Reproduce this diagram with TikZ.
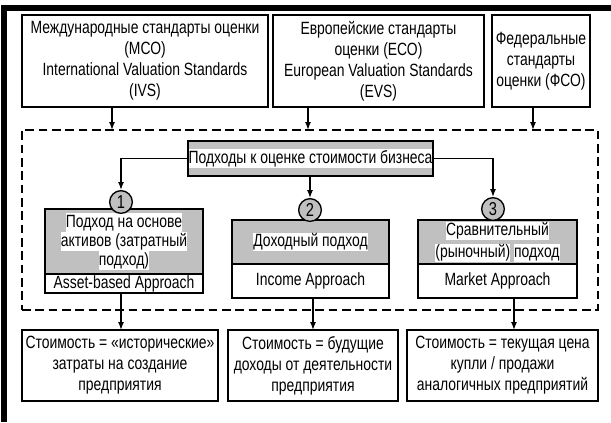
\documentclass[tikz,border=0pt]{standalone}
\usepackage{fontspec}
\setmainfont[FakeStretch=0.785]{Liberation Sans}
\usetikzlibrary{arrows.meta,calc}
\definecolor{boxgray}{RGB}{192,192,192}
\newcommand{\hlw}[1]{{\setlength{\fboxsep}{0pt}\colorbox{white}{\rule[-3.3pt]{0pt}{13.8pt}#1}}}
\begin{document}
\begin{tikzpicture}[x=0.75pt,y=-0.75pt,
  box/.style={draw,line width=1pt,inner sep=0pt,outer sep=0pt,align=center,anchor=north west,
    font=\fontsize{13.3}{15.75}\selectfont},
  grayb/.style={box,fill=boxgray},
  num/.style={circle,draw,line width=1pt,fill=boxgray,minimum size=17pt,inner sep=0pt,
    font=\fontsize{14}{15.75}\selectfont},
  arr/.style={-{Latex[length=6pt,width=4.5pt]},line width=1pt},
  grpbox/.style={draw,line width=1.3pt,dash pattern=on 6.5pt off 3.5pt,inner sep=0pt,outer sep=0pt,anchor=north west}
]
\useasboundingbox (0,0) rectangle (611,422);
\draw[line width=4pt] (4,422) -- (4,8) -- (611,8);

% top boxes
\node[box,minimum width=184.5pt,minimum height=69pt] (ivs) at (22,15)
  {Международные стандарты оценки\\(МСО)\\International Valuation Standards\\(IVS)};
\node[box,minimum width=158.25pt,minimum height=69pt] (evs) at (273,15)
  {Европейские стандарты\\оценки (ЕСО)\\European Valuation Standards\\(EVS)};
\node[box,minimum width=73.5pt,minimum height=69pt] (fso) at (492,15)
  {Федеральные\\стандарты\\оценки (ФСО)};

% dashed group
\node[grpbox,minimum width=432pt,minimum height=135pt] (grp) at (22,130) {};

% central
\node[grayb,minimum width=183.75pt,minimum height=26.25pt] (app) at (188,141)
  {\hlw{Подходы к оценке стоимости бизнеса}};

% approach A
\node[grayb,minimum width=118.5pt,minimum height=48.75pt,font=\fontsize{13.3}{14.3}\selectfont] (a) at (45,209)
  {\hlw{Подход на основе}\\\hlw{активов (затратный}\\\hlw{подход)}};
\node[box,minimum width=118.5pt,minimum height=14.25pt] (ae) at (a.south west) {Asset-based Approach};

% approach B
\node[grayb,minimum width=117.75pt,minimum height=33pt] (b) at (232,220)
  {\hlw{Доходный подход}};
\node[box,minimum width=117.75pt,minimum height=25.5pt] (be) at (b.south west) {Income Approach};

% approach C
\node[grayb,minimum width=119.25pt,minimum height=33pt,font=\fontsize{13.3}{16.5}\selectfont] (c) at (418,220)
  {\hlw{Сравнительный}\\\hlw{(рыночный)} \hlw{подход}};
\node[box,minimum width=119.25pt,minimum height=25.5pt] (ce) at (c.south west) {Market Approach};

% numbers
\node[num] (n1) at (121,202) {1};
\node[num] (n2) at (310,210) {2};
\node[num] (n3) at (493,209) {3};

% bottom boxes
\node[box,minimum width=147pt,minimum height=53.25pt] (d) at (22,330)
  {Стоимость = «исторические»\\затраты на создание\\предприятия};
\node[box,minimum width=127.5pt,minimum height=53.25pt] (e) at (228,330)
  {Стоимость = будущие\\доходы от деятельности\\предприятия};
\node[box,minimum width=143.25pt,minimum height=53.25pt] (f) at (407,330)
  {Стоимость = текущая цена\\купли / продажи\\аналогичных предприятий};

% connector x positions
\coordinate (t1) at (112,0);
\coordinate (t2) at (308,0);
\coordinate (t3) at (533,0);
\coordinate (d1) at (121,0);
\coordinate (e1) at (313,0);
\coordinate (f1) at (514,0);

\draw[arr] (ivs.south -| t1) -- (grp.north -| t1);
\draw[arr] (evs.south -| t2) -- (grp.north -| t2);
\draw[arr] (fso.south -| t3) -- (grp.north -| t3);

\draw[arr] (app.west) -| (n1.north);
\draw[arr] (app.south -| n2) -- (n2.north);
\draw[arr] (app.east) -| (n3.north);

\draw[arr] (ae.south -| d1) -- (d.north -| d1);
\draw[arr] (be.south -| e1) -- (e.north -| e1);
\draw[arr] (ce.south -| f1) -- (f.north -| f1);
\end{tikzpicture}
\end{document}
